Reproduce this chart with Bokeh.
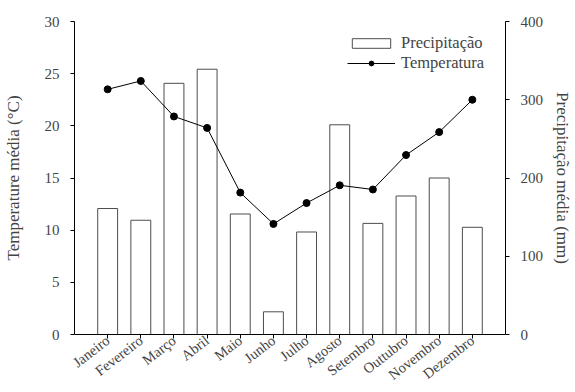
from bokeh.plotting import figure
from bokeh.models import Range1d, LinearAxis, FixedTicker, Legend, LegendItem, ColumnDataSource
from bokeh.embed import file_html
from bokeh.resources import INLINE

months = ["Janeiro", "Fevereiro", "Março", "Abril", "Maio", "Junho", "Julho",
          "Agosto", "Setembro", "Outtubro", "Novembro", "Dezembro"]
temperature = [23.5, 24.3, 20.9, 19.8, 13.6, 10.6, 12.6, 14.3, 13.9, 17.2, 19.4, 22.5]
precipitation = [161, 146, 321, 339, 154, 29, 131, 268, 142, 177, 200, 137]
temp_ticks = [0, 5, 10, 15, 20, 25, 30]
precip_ticks = [0, 100, 200, 300, 400]

xs = list(range(1, len(months) + 1))
src = ColumnDataSource(dict(x=xs, month=months, temp=temperature, precip=precipitation))

FONT = "Liberation Serif"

p = figure(width=575, height=392, output_backend="svg", toolbar_location=None,
           x_range=Range1d(0, len(months) + 1), y_range=Range1d(0, 30),
           min_border_left=72, min_border_right=69, min_border_top=21, min_border_bottom=58)
p.extra_y_ranges = {"precip": Range1d(0, 400)}
p.grid.visible = False
p.outline_line_color = None
p.background_fill_color = "white"

bars = p.vbar(x="x", top="precip", width=0.6, bottom=0, source=src, y_range_name="precip",
              fill_color="white", line_color="#4d4d4d", line_width=1)
line = p.line(x="x", y="temp", source=src, line_color="black", line_width=1)
dots = p.scatter(x="x", y="temp", source=src, size=7, fill_color="black", line_color="black")

# bottom axis
xa = p.xaxis[0]
xa.ticker = FixedTicker(ticks=xs)
xa.major_label_overrides = {x: m for x, m in zip(xs, months)}
xa.major_label_orientation = 0.66
xa.major_tick_in = 0
xa.major_tick_out = 4
xa.minor_tick_line_color = None
xa.major_label_text_font = FONT
xa.major_label_text_font_size = "14.5px"
xa.major_label_standoff = 0
xa.axis_line_color = "black"

# left axis
ya = p.yaxis[0]
ya.ticker = FixedTicker(ticks=temp_ticks)
ya.axis_label = "Temperature média (°C)"
ya.major_tick_in = 0
ya.major_tick_out = 4
ya.minor_tick_line_color = None
ya.major_label_text_font = FONT
ya.major_label_text_font_size = "15px"
ya.major_label_standoff = 11
ya.axis_label_text_font = FONT
ya.axis_label_text_font_size = "17px"
ya.axis_label_text_font_style = "normal"
ya.axis_label_standoff = 19

# right axis
ra = LinearAxis(y_range_name="precip", ticker=FixedTicker(ticks=precip_ticks),
                axis_label="Precipitação média (mm)")
ra.major_tick_in = 0
ra.major_tick_out = 4
ra.minor_tick_line_color = None
ra.major_label_text_font = FONT
ra.major_label_text_font_size = "15px"
ra.major_label_standoff = 11
ra.axis_label_text_font = FONT
ra.axis_label_text_font_size = "17px"
ra.axis_label_text_font_style = "normal"
ra.axis_label_standoff = 7
p.add_layout(ra, "right")

legend = Legend(items=[LegendItem(label="Precipitação", renderers=[bars]),
                       LegendItem(label="Temperatura", renderers=[line, dots])],
                location=(273, 261), border_line_color=None, background_fill_alpha=0,
                label_text_font=FONT, label_text_font_size="16.5px",
                glyph_width=48, glyph_height=12, label_height=12, spacing=-1,
                padding=0, margin=0, label_standoff=6)
p.add_layout(legend)

open("out.html", "w").write(file_html(p, INLINE))
